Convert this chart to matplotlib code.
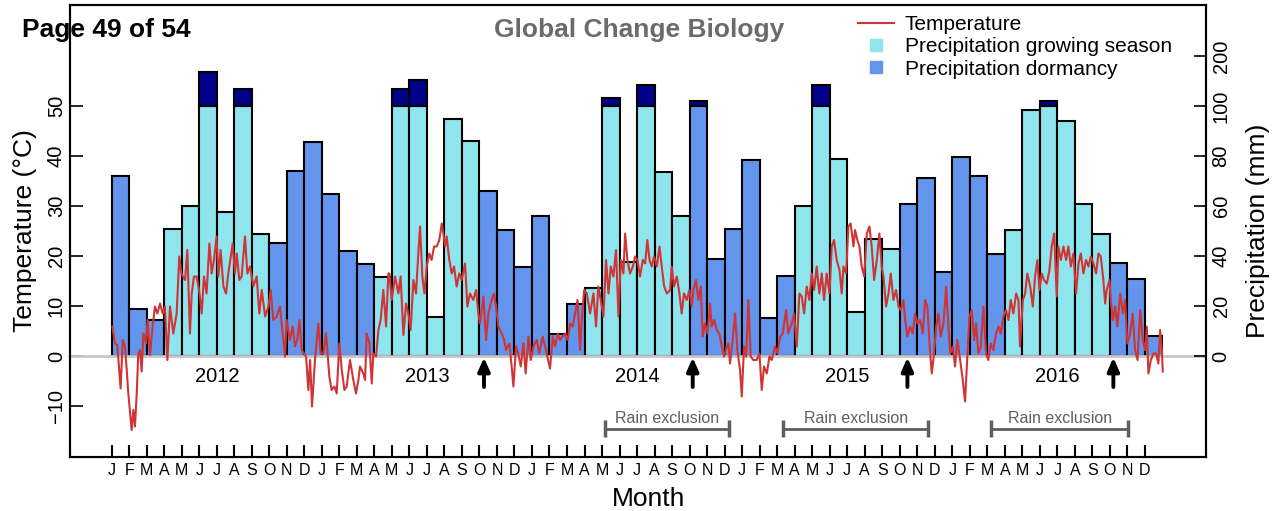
import matplotlib
matplotlib.use("Agg")
import matplotlib.pyplot as plt
import numpy as np
from matplotlib.lines import Line2D

plt.rcParams['font.family'] = ['Liberation Sans', 'DejaVu Sans']

month_labels = list("JFMAMJJASOND") * 5
years = ['2012', '2013', '2014', '2015', '2016']

# monthly precipitation (mm), Jan 2012 .. Dec 2016
precip_mm = [72.1, 18.7, 14.4, 50.7, 60.0, 168, 57.7, 135, 49.0, 45.3, 74.0, 85.5,
             65.0, 42.1, 37.0, 31.6, 135, 152, 15.5, 95.0, 86.0, 66.0, 50.4, 35.5,
             56.1, 8.7, 20.7, 27.3, 116.7, 37.7, 143, 73.7, 56.1, 109.5, 39.0, 50.7,
             78.4, 15.3, 32.0, 60.1, 142, 79.0, 17.7, 47.0, 42.8, 60.8, 71.3, 33.7,
             79.7, 72.0, 40.8, 50.4, 98.4, 110.7, 94.0, 60.7, 48.9, 37.4, 30.9, 8.0]

# temperature trace: time in months since 1 Jan 2012, temperature in deg C
temp_month = [
    0.04, 0.19, 0.32, 0.51, 0.63, 0.76, 0.86, 0.95, 1.14, 1.24,
    1.33, 1.43, 1.52, 1.62, 1.71, 1.81, 1.96, 2.05, 2.19, 2.34,
    2.47, 2.61, 2.76, 2.91, 3.04, 3.18, 3.33, 3.52, 3.71, 3.86,
    3.98, 4.19, 4.32, 4.47, 4.57, 4.70, 4.85, 4.99, 5.14, 5.27,
    5.42, 5.58, 5.71, 5.84, 5.99, 6.09, 6.22, 6.38, 6.53, 6.66,
    6.80, 6.91, 7.04, 7.14, 7.29, 7.42, 7.61, 7.75, 7.90, 8.09,
    8.28, 8.43, 8.57, 8.76, 8.95, 9.08, 9.23, 9.42, 9.61, 9.71,
    9.90, 9.99, 10.18, 10.34, 10.47, 10.60, 10.72, 10.85, 10.98, 11.10,
    11.23, 11.33, 11.44, 11.61, 11.80, 11.94, 12.09, 12.24, 12.43, 12.56,
    12.72, 12.85, 13.00, 13.14, 13.29, 13.42, 13.61, 13.80, 13.95, 14.09,
    14.18, 14.37, 14.47, 14.56, 14.72, 14.85, 14.94, 15.10, 15.23, 15.36,
    15.51, 15.67, 15.80,
    15.86, 15.99, 16.18, 16.37, 16.50, 16.66, 16.81, 16.94, 17.07, 17.23,
    17.38, 17.51, 17.61, 17.74, 17.86, 17.99, 18.14, 18.27, 18.41, 18.56,
    18.71, 18.85, 18.94, 19.04, 19.13, 19.28, 19.42, 19.55, 19.70, 19.85,
    19.99, 20.18, 20.31, 20.46, 20.65, 20.81, 20.94, 21.03, 21.23, 21.38,
    21.51, 21.70, 21.83, 21.95, 22.08, 22.27, 22.41, 22.52, 22.71, 22.84,
    22.94, 23.09, 23.22, 23.36, 23.51, 23.64, 23.80, 23.93, 24.08, 24.27,
    24.42, 24.61, 24.75, 24.88, 25.03, 25.19, 25.32, 25.47, 25.60, 25.76,
    25.89, 26.04, 26.18, 26.33, 26.46, 26.60, 26.75, 26.84, 26.98, 27.13,
    27.32, 27.51, 27.66, 27.79, 27.93, 28.08, 28.23, 28.37, 28.50, 28.65,
    28.80, 28.94, 29.07, 29.22, 29.32, 29.45, 29.60, 29.76, 29.89, 30.02,
    30.17, 30.33, 30.46, 30.59, 30.71, 30.84, 30.97, 31.13, 31.28, 31.41,
    31.55, 31.70, 31.89,
    31.98, 32.11, 32.27, 32.42, 32.55, 32.68, 32.84, 32.99, 33.12, 33.22,
    33.37, 33.50, 33.64, 33.75, 33.88, 34.02, 34.17, 34.26, 34.40, 34.55,
    34.70, 34.84, 34.97, 35.12, 35.22, 35.31, 35.46, 35.60, 35.73, 35.88,
    35.98, 36.11, 36.23, 36.36, 36.49, 36.64, 36.83, 36.99, 37.12, 37.25,
    37.41, 37.56, 37.69, 37.88, 38.02, 38.17, 38.32, 38.51, 38.64, 38.83,
    38.97, 39.12, 39.27, 39.41, 39.54, 39.69, 39.84, 39.98, 40.11, 40.26,
    40.41, 40.55, 40.68, 40.83, 40.99, 41.12, 41.25, 41.40, 41.56, 41.69,
    41.79, 41.94, 42.07, 42.20, 42.36, 42.45, 42.58, 42.70, 42.83, 42.97,
    43.12, 43.27, 43.40, 43.54, 43.69, 43.84, 43.97, 44.07, 44.22, 44.36,
    44.49, 44.64, 44.79, 44.93, 45.06, 45.21, 45.31, 45.44, 45.59, 45.74,
    45.88, 46.01, 46.16, 46.32, 46.45, 46.58, 46.74, 46.83, 46.96, 47.08,
    47.21, 47.34, 47.50, 47.65, 47.78,
    47.88, 48.03, 48.16, 48.29, 48.45, 48.60, 48.73, 48.87, 48.98, 49.11,
    49.25, 49.36, 49.49, 49.63, 49.78, 49.93, 50.06, 50.20, 50.35, 50.50,
    50.64, 50.77, 50.92, 51.07, 51.21, 51.34, 51.49, 51.65, 51.78, 51.87,
    52.03, 52.16, 52.29, 52.45, 52.60, 52.73, 52.86, 52.98, 53.11, 53.24,
    53.40, 53.55, 53.68, 53.82, 53.97, 54.06, 54.20, 54.35, 54.50, 54.63,
    54.77, 54.92, 55.07, 55.21, 55.34, 55.49, 55.64, 55.78, 55.91, 56.06,
    56.21, 56.35, 56.48, 56.63, 56.73, 56.82, 56.98, 57.05, 57.17, 57.30,
    57.43, 57.59, 57.74, 57.87, 58.00, 58.16, 58.31, 58.44, 58.58, 58.73,
    58.88, 59.01, 59.11, 59.20, 59.34, 59.49, 59.64, 59.77, 59.87, 59.97,
    60.02,
]
temp_c = [
    5.9, 2.5, 2.2, -6.5, 3.2, 1.9, -2.8, -7.5, -14.8, -10.8,
    -14.1, -7.5, 0.5, 1.2, -3.1, 4.5, 2.5, 7.2, 0.2, 5.9,
    9.9, 8.5, 10.5, 8.5, 9.9, -0.8, 9.9, 4.5, 8.5, 19.9,
    16.5, 15.2, 21.2, 4.5, 12.5, 15.9, 15.9, 13.2, 8.5, 15.9,
    12.5, 22.5, 16.5, 19.2, 23.9, 15.9, 21.2, 13.9, 12.5, 16.5,
    19.9, 22.5, 16.5, 20.5, 15.2, 15.9, 23.9, 16.5, 17.9, 13.9,
    15.9, 8.5, 13.2, 7.9, 9.9, 13.2, 7.2, 7.9, 9.9, 6.5,
    -0.1, 7.2, 3.2, 5.9, 1.9, 3.2, 7.2, 1.2, 0.5, -0.1,
    -6.8, -0.8, -10.1, -0.8, 6.5, 0.5, 0.5, 4.5, -4.1, -6.8,
    -6.1, -7.5, 2.5, -2.8, -6.8, -6.1, -0.8, -4.8, -7.5, -4.8,
    -2.1, -3.5, -4.8, 4.5, 2.5, -5.5, 0.5, -0.1, 5.2, 7.2,
    13.2, 5.9, 16.5,
    16.5, 11.2, 15.9, 12.5, 15.9, 4.2, 10.5, 8.5, 5.2, 15.2,
    12.5, 20.5, 25.9, 15.9, 12.5, 17.9, 20.5, 19.2, 21.9, 21.9,
    23.2, 26.5, 24.5, 21.9, 23.9, 19.2, 16.5, 17.9, 13.9, 16.5,
    15.2, 18.5, 9.9, 12.5, 11.2, 13.2, 8.5, 6.5, 11.9, 3.2,
    8.5, 11.2, 12.5, 9.9, 5.9, 4.5, 3.2, 1.2, 2.5, -2.1,
    -6.1, 1.9, 0.5, -2.1, 2.5, -3.5, 3.9, -0.8, 1.9, 3.2,
    0.5, 3.9, 1.9, -0.1, -2.5, 3.9, 1.9, 4.5, 3.2, 3.9,
    4.5, 3.2, 6.5, 5.9, 8.5, 11.2, 1.2, 7.2, 13.2, 12.5,
    8.5, 12.5, 5.9, 13.9, 11.2, 7.9, 19.2, 12.5, 17.9, 15.9,
    21.2, 7.9, 19.2, 16.5, 24.5, 19.2, 16.5, 17.9, 19.9, 19.2,
    15.9, 19.2, 18.5, 23.2, 19.2, 17.9, 19.9, 17.9, 21.9, 17.9,
    13.9, 12.5, 13.2,
    17.9, 13.9, 15.9, 12.5, 8.5, 12.5, 11.2, 13.2, 9.9, 13.2,
    15.2, 11.2, 13.9, 3.9, 6.5, 4.5, 10.5, 5.9, 7.2, 5.2,
    4.5, 1.9, -0.1, 1.9, 2.5, -1.5, 3.2, 8.5, 1.2, -2.8,
    -8.1, 1.9, -0.1, 11.2, -0.1, -0.8, -0.8, 0.5, -6.8, -2.1,
    -3.5, -0.1, -0.8, 1.9, 0.5, 3.9, 4.5, 9.2, 4.5, 6.5,
    8.5, 1.9, 12.5, 11.9, 8.5, 13.9, 11.2, 16.5, 13.2, 17.9,
    12.5, 16.5, 11.2, 16.5, 12.5, 21.9, 23.2, 19.2, 17.2, 12.5,
    17.9, 16.5, 25.9, 26.5, 21.9, 25.2, 23.2, 21.9, 17.9, 15.9,
    24.5, 25.9, 21.9, 15.2, 19.2, 24.5, 17.9, 15.9, 9.9, 12.5,
    16.5, 11.2, 13.2, 9.9, 9.2, 11.2, 7.2, 3.9, 5.9, 4.5,
    8.5, 6.5, 7.2, 4.5, 11.2, 9.9, 0.5, -3.5, 0.5, 5.9,
    8.5, 3.9, 6.5, 13.9, 5.9,
    0.5, 1.9, -2.1, 3.2, -0.8, -4.8, -9.1, 0.5, 7.9, 9.2,
    3.2, 6.5, 0.5, 1.9, 9.9, 0.5, -0.8, 2.5, 1.2, 4.5,
    5.9, 4.5, 7.9, 9.2, 7.2, 11.2, 8.5, 12.5, 11.2, 1.9,
    11.2, 12.5, 16.5, 13.9, 9.9, 15.9, 19.2, 13.2, 16.5, 15.2,
    14.5, 17.2, 21.9, 24.5, 11.9, 21.9, 19.2, 21.9, 19.2, 21.9,
    17.9, 20.5, 12.5, 18.5, 20.5, 16.5, 19.2, 17.9, 19.9, 18.5,
    16.5, 20.5, 19.9, 15.2, 10.5, 13.2, 15.2, 11.2, 7.2, 9.9,
    5.9, 12.5, 8.5, 11.2, 2.5, 4.5, 8.5, 1.2, -0.8, 9.2,
    3.2, 1.2, 5.9, -3.5, -0.8, 0.5, 0.5, -1.5, 5.2, 1.2,
    -3.1,
]

arrow_month = [21.26, 33.18, 45.44, 57.2]
exclusion_start = [28.19, 38.36, 50.2]
exclusion_end = [35.24, 46.64, 58.06]

cyan = '#8EE5EE'
blue = '#6495ED'
navy = '#00008B'
red = '#D03434'
grey = '#5f5f5f'


def to_temp_axis(mm):
    # 100 mm sits at 50 deg C; above 100 mm the scale is squeezed 5x
    mm = np.asarray(mm, float)
    shown = np.where(mm <= 100, mm, 100 + (mm - 100) / 5)
    return shown / 2


fig = plt.figure(figsize=(12.74, 5.11), dpi=100)
ax = fig.add_axes([70 / 1274, 1 - 457 / 511, 1136 / 1274, 452 / 511])

x = np.arange(len(precip_mm))
p = np.asarray(precip_mm, float)
grow = (x % 12 >= 3) & (x % 12 <= 8)
base = to_temp_axis(np.minimum(p, 100))
top = to_temp_axis(p)
over = p > 100

ax.bar(x, base, width=1, align='edge', color=np.where(grow, cyan, blue),
       edgecolor='black', linewidth=1.5, zorder=2)
ax.bar(x[over], (top - base)[over], bottom=base[over], width=1, align='edge',
       color=navy, edgecolor='black', linewidth=1.5, zorder=2)
ax.axhline(0, color='#c8c8c8', lw=2, zorder=2.5)
ax.plot(temp_month, temp_c, color=red, lw=1.5, zorder=3)

for k, yr in enumerate(years):
    ax.text(6 + 12 * k, -4.1, yr, ha='center', va='center', fontsize=14.5)

for m in arrow_month:
    ax.annotate('', xy=(m, -0.3), xytext=(m, -6.2),
                arrowprops=dict(arrowstyle='-|>,head_width=0.35,head_length=0.8',
                                lw=2.8, color='black', shrinkA=0, shrinkB=0),
                zorder=4)

for a, b in zip(exclusion_start, exclusion_end):
    ax.hlines(-14.5, a, b, color=grey, lw=2)
    ax.vlines([a, b], -16.2, -12.8, color=grey, lw=2.5)
    ax.text((a + b) / 2, -12.4, 'Rain exclusion', ha='center', va='center',
            fontsize=11.5, color=grey)

ax.set_xlim(-2.38, 62.49)
ax.set_ylim(-20.2, 70.2)
ax.set_xticks(x)
ax.set_xticklabels(month_labels)
ax.set_yticks([-10, 0, 10, 20, 30, 40, 50])
ax.tick_params(axis='x', direction='in', length=9, width=1.5, labelsize=11.5, pad=4)
ax.tick_params(axis='y', direction='in', length=9, width=1.2, labelsize=14.5,
               pad=3, labelrotation=90)
for lab in ax.get_yticklabels():
    lab.set_va('center')
for s in ax.spines.values():
    s.set_linewidth(1.5)

ax2 = ax.twinx()
ax2.set_ylim(ax.get_ylim())
ax2.set_yticks([0, 10, 20, 30, 40, 50, 60])
ax2.set_yticklabels(['0', '20', '40', '60', '80', '100', '200'])
ax2.tick_params(axis='y', direction='in', length=9, width=1.2, labelsize=14.5,
                pad=4, labelrotation=90)
for lab in ax2.get_yticklabels():
    lab.set_va('center')
for s in ax2.spines.values():
    s.set_linewidth(1.5)

handles = [Line2D([], [], color=red, lw=1.5),
           Line2D([], [], marker='s', ls='none', color=cyan, ms=8),
           Line2D([], [], marker='s', ls='none', color=blue, ms=8)]
fig.legend(handles, ['Temperature', 'Precipitation growing season', 'Precipitation dormancy'],
           loc='upper left', bbox_to_anchor=(858 / 1274, 1 - 15 / 511), frameon=False,
           fontsize=15, handlelength=1.75, handletextpad=0.5, labelspacing=0.16,
           borderpad=0, borderaxespad=0)

fig.text(22 / 1274, 1 - 30 / 511, 'Page 49 of 54', fontsize=19, fontweight='bold',
         ha='left', va='center')
fig.text(639 / 1274, 1 - 30 / 511, 'Global Change Biology', fontsize=19,
         fontweight='bold', color='#6b6b6b', ha='center', va='center')
fig.text(25 / 1274, 1 - 231 / 511, 'Temperature (°C)', rotation=90, fontsize=19,
         ha='center', va='center')
fig.text(1258 / 1274, 1 - 231 / 511, 'Precipitation (mm)', rotation=90, fontsize=19,
         ha='center', va='center')
fig.text(649 / 1274, 1 - 499 / 511, 'Month', fontsize=19, ha='center', va='center')

fig.savefig('out.png', dpi=100)
